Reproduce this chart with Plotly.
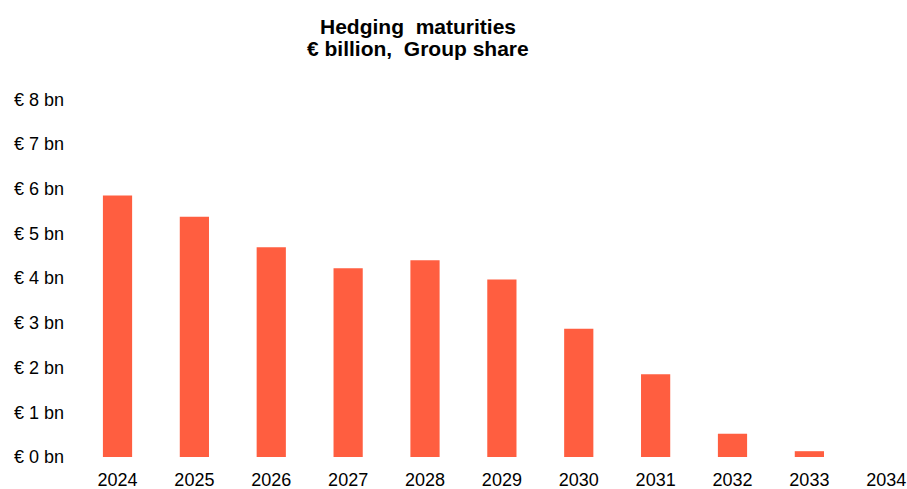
import plotly.graph_objects as go

years = ["2024", "2025", "2026", "2027", "2028", "2029", "2030", "2031", "2032", "2033", "2034"]
maturities_bn = [5.85, 5.37, 4.69, 4.22, 4.40, 3.97, 2.87, 1.85, 0.52, 0.13, 0.0]
y_tick_values = [0, 1, 2, 3, 4, 5, 6, 7, 8]
y_tick_labels = ["€ 0 bn", "€ 1 bn", "€ 2 bn", "€ 3 bn", "€ 4 bn", "€ 5 bn", "€ 6 bn", "€ 7 bn", "€ 8 bn"]
title_line1 = "Hedging  maturities"
title_line2 = "€ billion,  Group share"

FONT = "Arial, Liberation Sans, sans-serif"

fig = go.Figure(go.Bar(
    x=years,
    y=maturities_bn,
    width=0.38,
    marker=dict(color="#FF5E40", line=dict(width=0)),
    hovertemplate="%{x}: € %{y} bn<extra></extra>",
))

fig.update_layout(
    width=907, height=489,
    margin=dict(l=80, r=0, t=80, b=32),
    paper_bgcolor="white", plot_bgcolor="white",
    font=dict(family=FONT, size=18, color="black"),
    showlegend=False,
    annotations=[
        dict(text="<b>" + title_line1 + "</b>", xref="paper", yref="paper",
             x=(417.5 - 80) / 827, y=1 + (80 - 26) / 377, xanchor="center", yanchor="middle",
             showarrow=False, font=dict(family=FONT, size=21, color="black")),
        dict(text="<b>" + title_line2 + "</b>", xref="paper", yref="paper",
             x=(417.5 - 80) / 827, y=1 + (80 - 49) / 377, xanchor="center", yanchor="middle",
             showarrow=False, font=dict(family=FONT, size=21, color="black")),
    ],
)

fig.update_xaxes(
    type="category",
    range=[-0.488, 10.27],
    showgrid=False, zeroline=False, showline=False, ticks="",
    tickfont=dict(size=18, color="black"),
    ticklabelstandoff=10,
)
fig.update_yaxes(
    range=[0, 8.43],
    tickvals=y_tick_values, ticktext=y_tick_labels,
    showgrid=False, zeroline=False, showline=False, ticks="",
    tickfont=dict(size=18, color="black"),
    ticklabelstandoff=15,
)

fig.write_html("out.html")
